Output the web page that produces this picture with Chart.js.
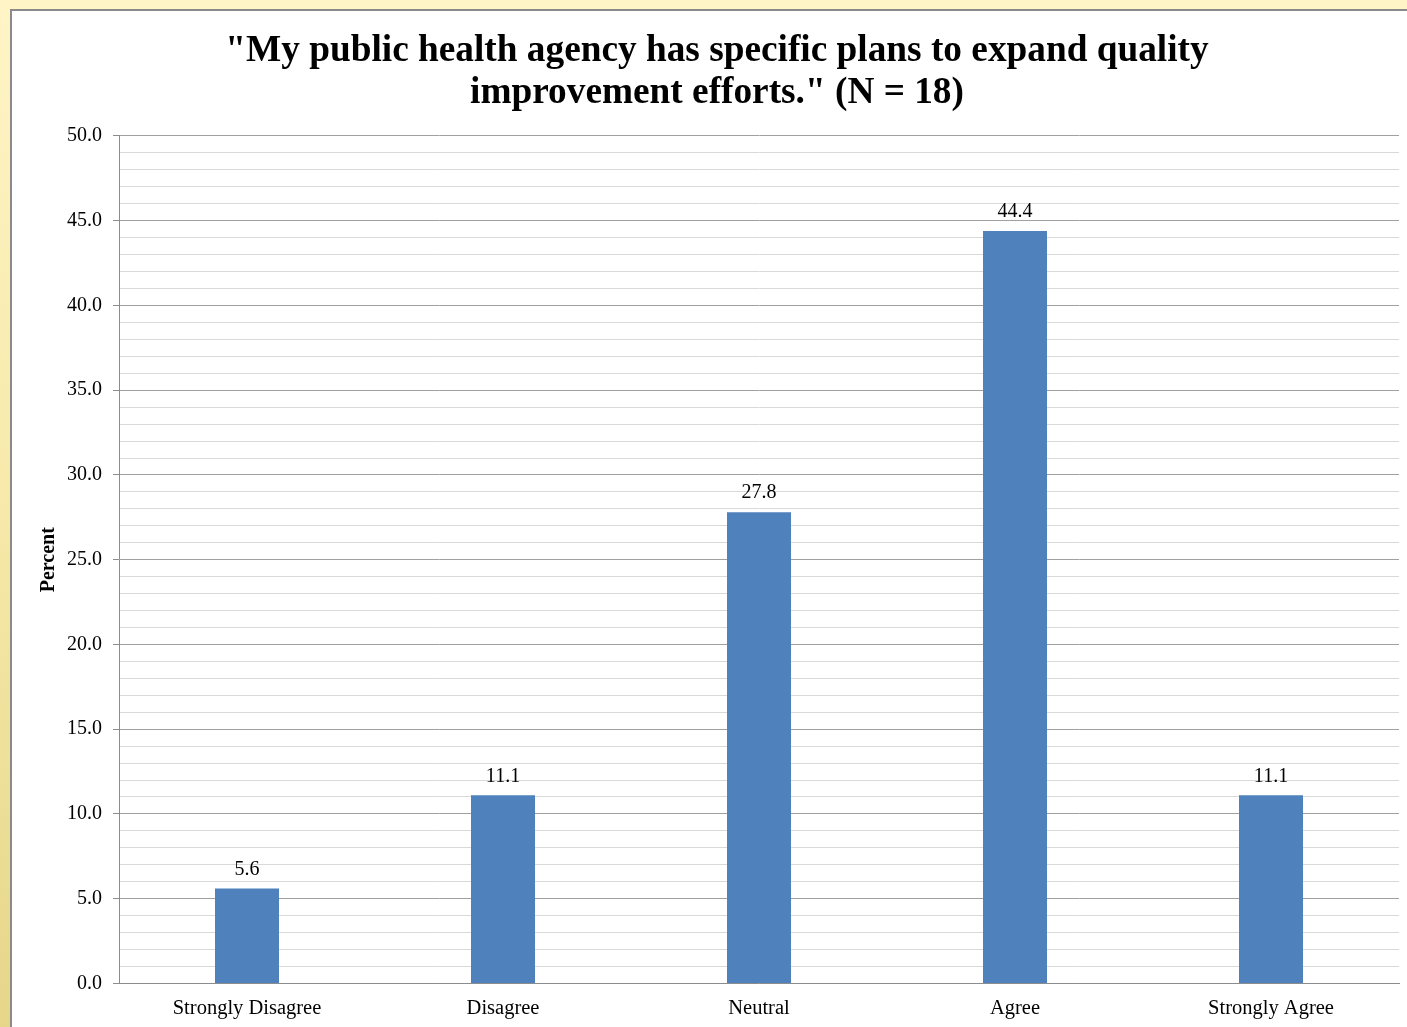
<!DOCTYPE html>
<html>
<head>
<meta charset="utf-8">
<script src="https://cdn.jsdelivr.net/npm/chart.js@4/dist/chart.umd.min.js"></script>
<style>
  html, body { margin: 0; padding: 0; width: 1407px; height: 1027px; overflow: hidden; }
  body { background: linear-gradient(to bottom, #fff4c6 0%, #f6e9a9 50%, #e6d68a 100%); position: relative; }
  #panel { position: absolute; left: 10px; top: 9px; right: 0; bottom: 0; background: #fff; border-left: 2px solid #8a8a8a; border-top: 2px solid #8a8a8a; }
  #wrap { position: absolute; left: 0; top: 0; width: 1407px; height: 1027px; overflow: hidden; }
</style>
</head>
<body>
<div id="panel"></div>
<div id="wrap"><canvas id="c" width="1407" height="1040"></canvas></div>
<script>
const categories = ["Strongly Disagree", "Disagree", "Neutral", "Agree", "Strongly Agree"];
const percents = [5.6, 11.1, 27.8, 44.4, 11.1];
const titleLines = ["\"My public health agency has specific plans to expand quality", "improvement efforts.\" (N = 18)"];
const yAxisTitle = "Percent";

const serif = "'Liberation Serif', 'Times New Roman', serif";

const valueLabels = {
  id: 'valueLabels',
  afterDatasetsDraw(chart) {
    const ctx = chart.ctx;
    const meta = chart.getDatasetMeta(0);
    ctx.save();
    ctx.font = "20px " + serif;
    ctx.fillStyle = "#000";
    ctx.textAlign = "center";
    ctx.textBaseline = "middle";
    meta.data.forEach((bar, i) => {
      ctx.fillText(chart.data.datasets[0].data[i].toFixed(1), bar.x, bar.y - 19);
    });
    ctx.restore();
  }
};

new Chart(document.getElementById('c'), {
  type: 'bar',
  data: {
    labels: categories,
    datasets: [{
      data: percents,
      backgroundColor: '#4f81bd',
      borderWidth: 0,
      barPercentage: 0.25,
      categoryPercentage: 1.0
    }]
  },
  options: {
    responsive: false,
    animation: false,
    devicePixelRatio: 1,
    layout: { padding: { top: 30, right: 8, left: 35, bottom: 6 } },
    plugins: {
      legend: { display: false },
      tooltip: { enabled: false },
      title: {
        display: true,
        text: titleLines,
        color: '#000',
        font: { family: serif, size: 37.3, weight: 'bold', lineHeight: 1.126 },
        padding: { top: 0, bottom: 22 }
      }
    },
    scales: {
      x: {
        grid: { display: false, drawTicks: false },
        border: { display: true, color: '#8c8c8c', width: 1 },
        ticks: { color: '#000', font: { family: serif, size: 20.5 }, padding: 13, maxRotation: 0, autoSkip: false }
      },
      y: {
        min: 0, max: 50,
        afterFit: (s) => { s.width = 84; },
        title: { display: true, text: yAxisTitle, color: '#000', font: { family: serif, size: 20, weight: 'bold' }, padding: { top: 2, bottom: 0 } },
        border: { display: true, color: '#8c8c8c', width: 1 },
        grid: {
          color: (c) => (c.tick && c.tick.value % 5 === 0) ? '#a0a0a0' : '#d9d9d9',
          tickColor: (c) => (c.tick && c.tick.value % 5 === 0) ? '#8c8c8c' : 'rgba(0,0,0,0)',
          tickLength: 6,
          lineWidth: 1
        },
        ticks: {
          stepSize: 1,
          autoSkip: false,
          color: '#000',
          padding: 11,
          font: { family: serif, size: 20 },
          callback: (v) => (v % 5 === 0) ? Number(v).toFixed(1) : ''
        }
      }
    }
  },
  plugins: [valueLabels]
});
</script>
</body>
</html>
